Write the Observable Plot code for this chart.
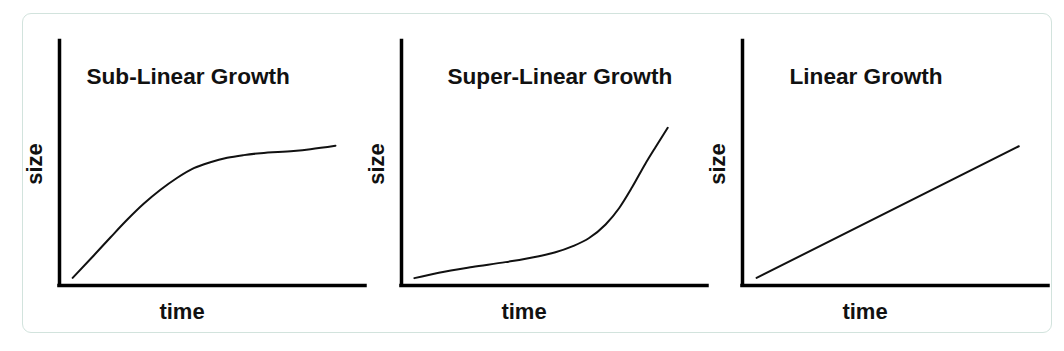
<!DOCTYPE html>
<html>
<head>
<meta charset="utf-8">
<script src="https://cdn.jsdelivr.net/npm/d3@7"></script>
<script src="https://cdn.jsdelivr.net/npm/@observablehq/plot@0.6"></script>
<style>
  html, body { margin: 0; padding: 0; background: #fff; }
  #wrap { position: relative; width: 1064px; height: 351px; overflow: hidden; }
  #border { position: absolute; left: 22px; top: 13px; width: 1028px; height: 318px;
            border: 1.5px solid #d2e3dd; border-radius: 9px; }
  #wrap svg { position: absolute; left: 0; top: 0; }
</style>
</head>
<body>
<div id="wrap"><div id="border"></div></div>
<script>
// ---- data ----
const titles = ["Sub-Linear Growth", "Super-Linear Growth", "Linear Growth"];
const xLabel = "time";
const yLabel = "size";

// Sub-linear curve (time 0–100, size 0–100 in axis units)
const subTime = [4.3, 11.2, 16.7, 22.1, 27.5, 33.0, 38.5, 43.9, 49.3, 54.8, 60.2, 65.7, 76.5, 82.0, 90.2];
const subSize = [3.1, 12.2, 19.6, 26.7, 33.2, 38.9, 43.8, 47.7, 50.1, 51.9, 53.0, 53.8, 54.7, 55.4, 56.8];

// Super-linear curve
const superTime = [4.2, 12.2, 23.1, 34.0, 44.9, 50.3, 55.8, 61.2, 66.7, 71.1, 75.4, 79.7, 83.0, 87.0];
const superSize = [3.0, 5.2, 7.5, 9.5, 11.9, 13.5, 15.9, 19.2, 24.8, 31.4, 40.0, 49.5, 56.2, 64.1];

// Linear
const linTime = [4.6, 90.3];
const linSize = [3.1, 56.6];

const series = [
  subTime.map((t, i) => ({time: t, size: subSize[i]})),
  superTime.map((t, i) => ({time: t, size: superSize[i]})),
  linTime.map((t, i) => ({time: t, size: linSize[i]}))
];

// ---- layout (pixels) ----
const W = 1064, H = 351;
const axisLeft = [59, 401, 742];
const axisRight = [365, 707, 1048];
const titleDx = [27, 46, 47];
const font = "'Liberation Sans', Arial, Helvetica, sans-serif";
const ink = "#111";

const wrap = document.getElementById("wrap");

titles.forEach((title, k) => {
  const svg = Plot.plot({
    width: W,
    height: H,
    marginLeft: axisLeft[k],
    marginRight: W - axisRight[k],
    marginTop: 39,
    marginBottom: 66,
    x: {domain: [0, 100], axis: null},
    y: {domain: [0, 100], axis: null},
    style: {background: "transparent", fontFamily: font, overflow: "visible"},
    marks: [
      Plot.ruleY([0], {stroke: "#000", strokeWidth: 3.5, strokeLinecap: "square"}),
      Plot.ruleX([0], {stroke: "#000", strokeWidth: 3.5, strokeLinecap: "square", insetTop: 1.5}),
      Plot.line(series[k], {x: "time", y: "size", curve: "monotone-x", stroke: ink, strokeWidth: 2}),
      Plot.text([title], {text: d => d, frameAnchor: "top-left", textAnchor: "start", lineAnchor: "middle",
        dx: titleDx[k], dy: 37, fontSize: 22.6, fontWeight: "bold", fill: ink}),
      Plot.text([xLabel], {text: d => d, frameAnchor: "bottom-left", textAnchor: "middle", lineAnchor: "middle",
        dx: 122.5, dy: 26, fontSize: 22, fontWeight: "bold", fill: ink}),
      Plot.text([yLabel], {text: d => d, frameAnchor: "left", textAnchor: "middle", lineAnchor: "middle", rotate: -90,
        dx: -25, dy: 1.5, fontSize: 22, fontWeight: "bold", fill: ink})
    ]
  });
  svg.style.position = "absolute";
  svg.style.left = "0px";
  svg.style.top = "0px";
  svg.style.maxWidth = "none";
  wrap.appendChild(svg);
});
</script>
</body>
</html>
